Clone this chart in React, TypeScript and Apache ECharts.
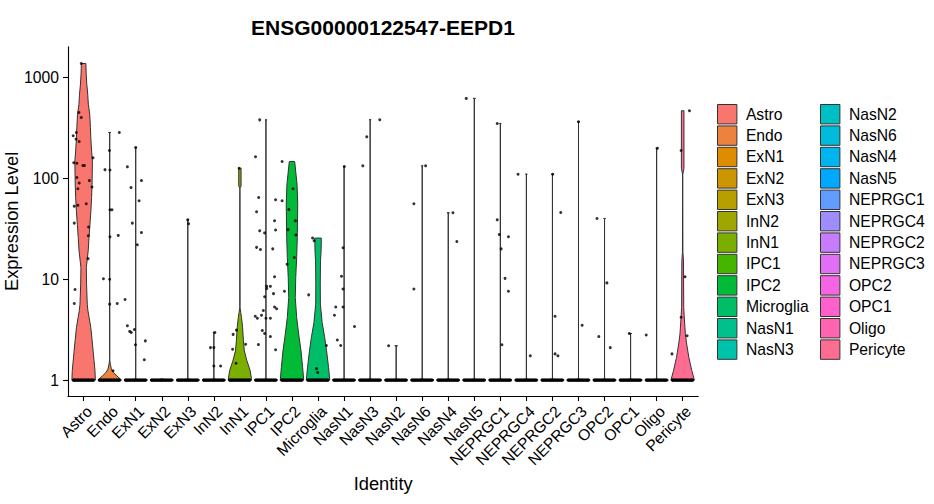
import React, { useEffect, useRef } from 'react';
import * as echarts from 'echarts';

// ---------- data ----------
const categories = [
  'Astro', 'Endo', 'ExN1', 'ExN2', 'ExN3', 'InN2', 'InN1', 'IPC1', 'IPC2', 'Microglia',
  'NasN1', 'NasN3', 'NasN2', 'NasN6', 'NasN4', 'NasN5', 'NEPRGC1', 'NEPRGC4', 'NEPRGC2',
  'NEPRGC3', 'OPC2', 'OPC1', 'Oligo', 'Pericyte',
];

const colors = [
  '#F8766D', '#ED813E', '#DE8C00', '#CD9600', '#B79F00', '#9FA600', '#7CAE00', '#45B500',
  '#00BA38', '#00BE67', '#00C08B', '#00C1A9', '#00BFC4', '#00BBDB', '#00B4F0', '#00A9FF',
  '#619CFF', '#9F8CFF', '#C77CFF', '#E36EF6', '#F564E3', '#FF61CC', '#FF64B0', '#FF6C91',
];

const yTickValues = [1, 10, 100, 1000];

// violin outlines: [expression level, relative half width (1 = widest)]
const astroViolin = [[1, 1], [1.24, 0.97], [1.55, 0.89], [1.95, 0.81], [2.45, 0.73], [3.33, 0.61], [4.17, 0.47], [4.86, 0.37], [5.66, 0.31], [8.95, 0.25], [13.1, 0.23], [19.1, 0.39], [25.9, 0.46], [35.2, 0.54], [47.7, 0.62], [64.6, 0.68], [87.7, 0.72], [149, 0.75], [187, 0.68], [254, 0.61], [319, 0.58], [433, 0.52], [543, 0.4], [684, 0.35], [859, 0.27], [1079, 0.22], [1377, 0.19]];
const endoViolin = [[1, 1], [1.1, 0.62], [1.19, 0.32], [1.29, 0.14], [1.44, 0.06], [1.6, 0], [285, 0], [285, 0.1]];
const exN1Violin = [[1, 1], [1.02, 0.05], [1.05, 0], [202, 0], [202, 0.08]];
const exN2Violin = [[1, 1], [1.02, 0.05], [1.04, 0]];
const exN3Violin = [[1, 1], [1.02, 0.05], [1.05, 0], [38.8, 0], [38.8, 0.08]];
const inN2Violin = [[1, 1], [1.02, 0.05], [1.05, 0], [2.97, 0], [2.97, 0.08]];
const inN1Violin = [[1, 1], [1.24, 0.88], [1.55, 0.6], [1.95, 0.38], [2.45, 0.3], [3.33, 0.23], [4.17, 0.14], [4.7, 0.07], [5.25, 0.01], [80, 0], [84, 0.1], [126, 0.1]];
const ipc1Violin = [[1, 1], [1.02, 0.05], [1.05, 0], [380, 0], [380, 0.08]];
const ipc2Violin = [[1, 1], [1.33, 0.91], [1.95, 0.77], [2.86, 0.57], [4.17, 0.4], [6.59, 0.28], [10.4, 0.32], [16.4, 0.4], [25.9, 0.45], [55.6, 0.49], [87.7, 0.43], [147, 0.23]];
const microgliaViolin = [[1, 1], [1.33, 0.9], [1.95, 0.73], [2.64, 0.57], [3.72, 0.35], [5.66, 0.2], [8.95, 0.19], [15.2, 0.21], [19.1, 0.26], [25.6, 0.28]];
const nasN1Violin = [[1, 1], [1.02, 0.05], [1.05, 0], [131, 0], [131, 0.08]];
const nasN3Violin = [[1, 1], [1.02, 0.05], [1.05, 0], [381, 0], [381, 0.08]];
const nasN2Violin = [[1, 1], [1.02, 0.05], [1.05, 0], [2.19, 0], [2.19, 0.12]];
const nasN6Violin = [[1, 1], [1.02, 0.05], [1.05, 0], [133, 0], [133, 0.08]];
const nasN4Violin = [[1, 1], [1.02, 0.05], [1.05, 0], [45.6, 0], [45.6, 0.1]];
const nasN5Violin = [[1, 1], [1.02, 0.05], [1.05, 0], [620, 0], [620, 0.1]];
const neprgc1Violin = [[1, 1], [1.02, 0.05], [1.05, 0], [350, 0], [350, 0.08]];
const neprgc4Violin = [[1, 1], [1.02, 0.05], [1.05, 0], [110, 0], [110, 0.08]];
const neprgc2Violin = [[1, 1], [1.02, 0.05], [1.05, 0], [110, 0], [110, 0.08]];
const neprgc3Violin = [[1, 1], [1.02, 0.05], [1.05, 0], [364, 0], [364, 0.08]];
const opc2Violin = [[1, 1], [1.02, 0.05], [1.05, 0], [40, 0], [40, 0.08]];
const opc1Violin = [[1, 1], [1.02, 0.05], [1.05, 0], [2.9, 0], [2.9, 0.1]];
const oligoViolin = [[1, 1], [1.02, 0.05], [1.05, 0], [199, 0], [199, 0.08]];
const pericyteViolin = [[1, 1], [1.24, 0.78], [1.67, 0.53], [2.28, 0.34], [2.86, 0.23], [4.34, 0.13], [5.25, 0.09], [15.2, 0.07], [18.4, 0.02], [108, 0], [126, 0.11], [468, 0.11]];

const violinProfiles = [
  astroViolin, endoViolin, exN1Violin, exN2Violin, exN3Violin, inN2Violin, inN1Violin, ipc1Violin,
  ipc2Violin, microgliaViolin, nasN1Violin, nasN3Violin, nasN2Violin, nasN6Violin, nasN4Violin,
  nasN5Violin, neprgc1Violin, neprgc4Violin, neprgc2Violin, neprgc3Violin, opc2Violin, opc1Violin,
  oligoViolin, pericyteViolin,
];

// expressing cells: [jitter within category, expression level]
const cellPoints = [
  [[-0.09, 1377], [-0.18, 450], [-0.09, 401], [-0.28, 285], [-0.4, 264], [-0.29, 245], [-0.17, 232], [0.36, 160], [-0.38, 143], [-0.26, 141], [-0.03, 134], [0.03, 134], [-0.26, 102], [0.22, 95], [-0.17, 90], [0.32, 82], [-0.22, 79], [-0.36, 53], [-0.22, 54], [0.1, 56], [-0.36, 36], [0.19, 33], [0.18, 27], [0.17, 16], [-0.33, 7.9], [-0.36, 5.75]],
  [[0.37, 285], [-0.01, 189], [-0.18, 122], [0.01, 121], [0.09, 48.8], [0.01, 48.8], [0.33, 27.2], [0.01, 26.3], [-0.24, 10.1], [0, 10], [0.29, 5.75], [0, 5.66], [0.13, 1.24]],
  [[0, 202], [-0.32, 130], [-0.18, 81], [0.22, 95], [0.13, 60], [-0.13, 36], [0.22, 29], [0.06, 22], [-0.41, 6.3], [-0.32, 3.46], [-0.23, 3.04], [-0.17, 2.97], [-0.05, 3.18], [-0.01, 2.24], [0.37, 2.45], [0.33, 1.59]],
  [],
  [[0, 38.8], [0.03, 35.5]],
  [[0.04, 2.97], [-0.13, 2.1], [0, 2.1], [0, 1.38], [0.26, 1.38]],
  [[-0.03, 126], [-0.26, 2.84], [-0.13, 3.13], [-0.15, 1.47], [-0.28, 2.02], [0.22, 2.27]],
  [[-0.24, 380], [-0.4, 164], [-0.28, 64.7], [-0.36, 46.6], [0.37, 61.3], [-0.24, 30.2], [-0.05, 28.8], [0.33, 38], [0.37, 30.8], [-0.36, 20.7], [-0.21, 19.7], [0.26, 20], [0.33, 10.6], [0.03, 8.5], [0.03, 8.1], [0.17, 8.5], [0.29, 7.2], [-0.05, 6.7], [0.33, 5.3], [0.41, 5.1], [-0.1, 4.9], [-0.41, 4.3], [-0.17, 4.4], [-0.33, 4.1], [0, 4.1], [0.17, 4.1], [-0.14, 3.1], [-0.05, 2.9], [0.17, 2.7], [-0.29, 2.25], [0.37, 2.0]],
  [[-0.38, 147], [-0.38, 60], [0.04, 79], [-0.12, 49], [0.13, 38], [-0.15, 31], [0.15, 27.4], [-0.19, 14.1], [0.09, 16.4], [-0.29, 7.6]],
  [[-0.21, 25.6], [-0.15, 24.1], [-0.36, 7.0], [0.32, 2.2], [-0.06, 1.3], [-0.01, 1.19]],
  [[0.01, 131], [-0.04, 20.5], [-0.1, 10.7], [-0.04, 8.0], [-0.32, 5.3], [-0.04, 5.3], [-0.37, 4.4], [0.4, 3.4], [-0.26, 2.5], [-0.13, 2.2]],
  [[0.37, 381], [-0.13, 258], [-0.28, 133]],
  [[-0.29, 2.19]],
  [[0.13, 133], [-0.32, 56], [-0.32, 8.0]],
  [[0.18, 45.6], [0.33, 23.7]],
  [[-0.31, 620]],
  [[-0.12, 350], [-0.12, 38.8], [-0.04, 27.7], [0.31, 26.4], [0.03, 20], [0.18, 10.2], [0.31, 7.6], [0.06, 2.24]],
  [[-0.32, 110], [0.15, 1.74]],
  [[0.01, 110], [0.32, 45.9], [0.1, 4.3], [0.1, 1.82], [0.21, 1.74]],
  [[0, 364], [0.14, 3.5]],
  [[-0.29, 40], [0.09, 9.2], [-0.22, 2.7], [0.22, 2.1]],
  [[-0.05, 2.9]],
  [[0.03, 199], [-0.4, 2.8]],
  [[0.26, 468], [-0.06, 189], [0.09, 10.6], [-0.06, 4.2], [0.17, 2.75], [-0.41, 1.82]],
];

// non-expressing cells (level 1): jitter positions
const zeroJitter = [-0.4, -0.38, -0.35, -0.33, -0.3, -0.27, -0.25, -0.22, -0.19, -0.17, -0.13, -0.11, -0.08, -0.05, -0.03, 0.0, 0.03, 0.06, 0.08, 0.12, 0.14, 0.17, 0.2, 0.22, 0.26, 0.28, 0.31, 0.34, 0.36, 0.39];

export default function App() {
  const ref = useRef<HTMLDivElement>(null);

  useEffect(() => {
    if (!ref.current) return;
    const chart = echarts.init(ref.current, null, { renderer: 'svg' });
    const FONT = "'Liberation Sans', Arial, Helvetica, sans-serif";
    const HALF = 0.45;
    const xTicks = categories.map((_, i) => i + 1);
    const yTicks = yTickValues.map((v) => Math.log10(v));

    const violinSeries = categories.map((name, ci) => ({
      type: 'custom',
      name,
      data: [[ci + 1, 0]],
      encode: { x: 0, y: 1 },
      itemStyle: { color: colors[ci] },
      silent: true,
      z: 2,
      renderItem: (_params: any, api: any) => {
        const prof = violinProfiles[ci];
        const cx = api.value(0);
        const right = prof.map(([v, w]) => api.coord([cx + w * HALF, Math.log10(v)]));
        const left = prof.slice().reverse().map(([v, w]) => api.coord([cx - w * HALF, Math.log10(v)]));
        return {
          type: 'polygon',
          shape: { points: right.concat(left) },
          style: { fill: colors[ci], stroke: '#333333', lineWidth: 1 },
        };
      },
    }));

    const pts: number[][] = [];
    categories.forEach((_, ci) => {
      zeroJitter.forEach((j) => pts.push([ci + 1 + j, 0]));
      cellPoints[ci].forEach(([j, v]) => pts.push([ci + 1 + j, Math.log10(v)]));
    });

    const legendBase = {
      orient: 'vertical',
      top: 104,
      itemWidth: 19.4,
      itemHeight: 19.4,
      itemGap: 1,
      icon: 'rect',
      selectedMode: false,
      padding: 0,
      textStyle: { fontSize: 15.7, color: '#000', fontFamily: FONT, padding: [0, 0, 0, 4] },
      itemStyle: { borderColor: '#333333', borderWidth: 1 },
    };

    const axisLineStyle = { color: '#000', width: 1.1 };

    chart.setOption({
      animation: false,
      backgroundColor: '#fff',
      title: {
        text: 'ENSG00000122547-EEPD1',
        left: 383,
        top: 17,
        textAlign: 'center',
        padding: 0,
        textStyle: { fontSize: 21, fontWeight: 'bold', color: '#000', fontFamily: FONT },
      },
      legend: [
        { ...legendBase, left: 717, data: categories.slice(0, 12) },
        { ...legendBase, left: 820, data: categories.slice(12) },
      ],
      grid: { left: 68, right: 235.7, top: 46.7, bottom: 108, outerBoundsMode: 'none' },
      xAxis: {
        type: 'value',
        min: 0.4,
        max: 24.6,
        name: 'Identity',
        nameLocation: 'middle',
        nameGap: 77,
        nameTextStyle: { fontSize: 18.3, color: '#000', fontFamily: FONT },
        axisLine: { show: true, onZero: false, lineStyle: axisLineStyle },
        axisTick: { show: true, length: 5, customValues: xTicks, lineStyle: axisLineStyle },
        axisLabel: {
          customValues: xTicks,
          formatter: (v: number) => categories[Math.round(v) - 1],
          rotate: 45,
          align: 'right',
          verticalAlign: 'top',
          margin: 7,
          fontSize: 15.7,
          color: '#000',
          fontFamily: FONT,
        },
        splitLine: { show: false },
      },
      yAxis: {
        type: 'value',
        min: -0.1574,
        max: 3.305,
        name: 'Expression Level',
        nameLocation: 'middle',
        nameGap: 48,
        nameMoveOverlap: false,
        nameTextStyle: { fontSize: 18.3, color: '#000', fontFamily: FONT },
        axisLine: { show: true, onZero: false, lineStyle: axisLineStyle },
        axisTick: { show: true, length: 5, customValues: yTicks, lineStyle: axisLineStyle },
        axisLabel: {
          customValues: yTicks,
          formatter: (v: number) => String(Math.round(Math.pow(10, v))),
          margin: 9,
          fontSize: 15.7,
          color: '#000',
          fontFamily: FONT,
        },
        splitLine: { show: false },
      },
      series: [
        ...violinSeries,
        {
          type: 'scatter',
          name: 'cells',
          data: pts,
          symbol: 'circle',
          symbolSize: 3,
          itemStyle: { color: '#000' },
          silent: true,
          z: 3,
        },
      ],
    } as any);

    return () => chart.dispose();
  }, []);

  return <div ref={ref} style={{ position: 'absolute', left: 0, top: 0, width: 934, height: 504 }} />;
}
